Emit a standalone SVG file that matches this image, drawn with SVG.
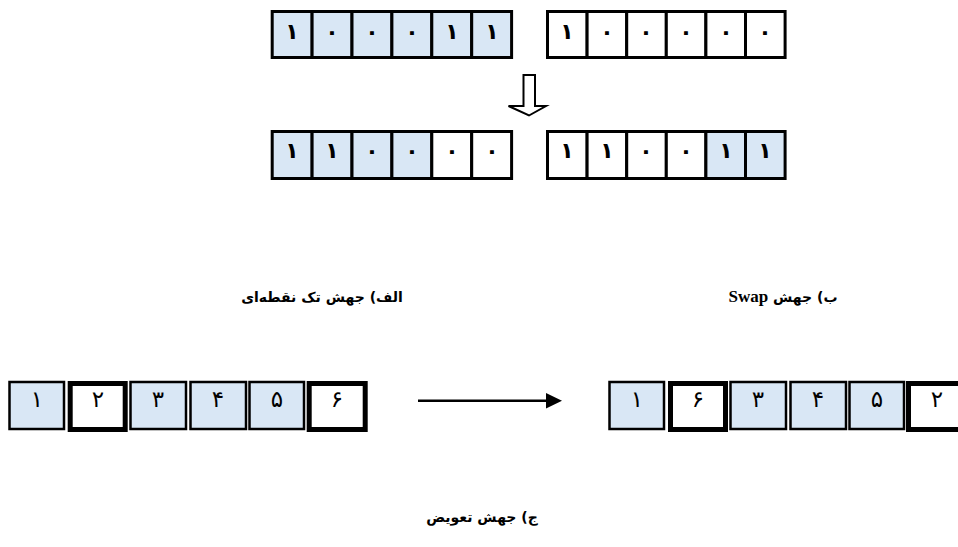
<svg xmlns="http://www.w3.org/2000/svg" width="958" height="547" viewBox="0 0 958 547">
<style>
.b{fill:#d9e7f5;stroke:#000;stroke-width:3}
.w{fill:#fff;stroke:#000;stroke-width:3}
.bb{fill:#d9e7f5;stroke:#000;stroke-width:2.5}
.ww{fill:#fff;stroke:#000;stroke-width:5}
.d{font-family:"DejaVu Sans",sans-serif;font-size:22px;font-weight:bold;fill:#000;text-anchor:middle}
.e{font-family:"DejaVu Sans",sans-serif;font-size:23px;fill:#000;text-anchor:middle}
.lbl{font-family:"DejaVu Sans",sans-serif;font-size:14px;font-weight:bold;fill:#000;text-anchor:middle}
</style>
<rect width="958" height="547" fill="#fff"/>
<g id="row1-left">
<rect class="b" x="272.2" y="11.5" width="39.9" height="46"/>
<rect class="b" x="312.1" y="11.5" width="39.9" height="46"/>
<rect class="b" x="352" y="11.5" width="39.9" height="46"/>
<rect class="b" x="391.9" y="11.5" width="39.9" height="46"/>
<rect class="b" x="431.8" y="11.5" width="39.9" height="46"/>
<rect class="b" x="471.7" y="11.5" width="39.9" height="46"/>
<text class="d" x="292" y="39">۱</text>
<text class="d" x="332" y="39">۰</text>
<text class="d" x="372" y="39">۰</text>
<text class="d" x="412" y="39">۰</text>
<text class="d" x="452" y="39">۱</text>
<text class="d" x="492" y="39">۱</text>
</g>
<g id="row1-right">
<rect class="w" x="547.5" y="11.5" width="39.6" height="46"/>
<rect class="w" x="587.1" y="11.5" width="39.6" height="46"/>
<rect class="w" x="626.7" y="11.5" width="39.6" height="46"/>
<rect class="w" x="666.3" y="11.5" width="39.6" height="46"/>
<rect class="w" x="705.9" y="11.5" width="39.6" height="46"/>
<rect class="w" x="745.5" y="11.5" width="39.6" height="46"/>
<text class="d" x="567" y="39">۱</text>
<text class="d" x="607" y="39">۰</text>
<text class="d" x="646" y="39">۰</text>
<text class="d" x="686" y="39">۰</text>
<text class="d" x="726" y="39">۰</text>
<text class="d" x="765" y="39">۰</text>
</g>
<g id="row2-left">
<rect class="b" x="272.2" y="131.5" width="39.9" height="47"/>
<rect class="b" x="312.1" y="131.5" width="39.9" height="47"/>
<rect class="b" x="352" y="131.5" width="39.9" height="47"/>
<rect class="b" x="391.9" y="131.5" width="39.9" height="47"/>
<rect class="w" x="431.8" y="131.5" width="39.9" height="47"/>
<rect class="w" x="471.7" y="131.5" width="39.9" height="47"/>
<text class="d" x="292" y="158">۱</text>
<text class="d" x="332" y="158">۱</text>
<text class="d" x="372" y="158">۰</text>
<text class="d" x="412" y="158">۰</text>
<text class="d" x="452" y="158">۰</text>
<text class="d" x="492" y="158">۰</text>
</g>
<g id="row2-right">
<rect class="w" x="547.5" y="131.5" width="39.6" height="47"/>
<rect class="w" x="587.1" y="131.5" width="39.6" height="47"/>
<rect class="w" x="626.7" y="131.5" width="39.6" height="47"/>
<rect class="w" x="666.3" y="131.5" width="39.6" height="47"/>
<rect class="b" x="705.9" y="131.5" width="39.6" height="47"/>
<rect class="b" x="745.5" y="131.5" width="39.6" height="47"/>
<text class="d" x="567" y="158">۱</text>
<text class="d" x="607" y="158">۱</text>
<text class="d" x="646" y="158">۰</text>
<text class="d" x="686" y="158">۰</text>
<text class="d" x="726" y="158">۱</text>
<text class="d" x="765" y="158">۱</text>
</g>
<g id="row3-left">
<rect class="bb" x="9.5" y="382" width="54.5" height="47"/>
<rect class="ww" x="70.2" y="383.5" width="55" height="46"/>
<rect class="bb" x="130.5" y="382" width="55.5" height="47"/>
<rect class="bb" x="190.5" y="382" width="55.5" height="47"/>
<rect class="bb" x="249.5" y="382" width="54.5" height="47"/>
<rect class="ww" x="309.2" y="383.5" width="56" height="46"/>
<text class="e" x="37" y="407">۱</text>
<text class="e" x="98" y="407">۲</text>
<text class="e" x="158" y="407">۳</text>
<text class="e" x="218" y="407">۴</text>
<text class="e" x="277" y="407">۵</text>
<text class="e" x="337" y="407">۶</text>
</g>
<g id="row3-right">
<rect class="bb" x="609.5" y="382" width="54.5" height="47"/>
<rect class="ww" x="670.5" y="383.5" width="55" height="46"/>
<rect class="bb" x="730.5" y="382" width="55.5" height="47"/>
<rect class="bb" x="790.5" y="382" width="55.5" height="47"/>
<rect class="bb" x="849.5" y="382" width="54.5" height="47"/>
<rect class="ww" x="908.5" y="383.5" width="56" height="46"/>
<text class="e" x="637" y="407">۱</text>
<text class="e" x="698" y="407">۶</text>
<text class="e" x="758" y="407">۳</text>
<text class="e" x="818" y="407">۴</text>
<text class="e" x="877" y="407">۵</text>
<text class="e" x="937" y="407">۲</text>
</g>
<g id="connectors">
<path d="M523.5 75 H535 V106 H546 L529 115.5 L508.5 106 H523.5 Z" fill="#fff" stroke="#000" stroke-width="2"/>
<line x1="418" y1="400.7" x2="549" y2="400.7" stroke="#000" stroke-width="2.5"/>
<polygon points="546,393 562,400.7 546,408.5" fill="#000"/>
</g>
<g id="labels">
<text class="lbl" x="322" y="302" direction="rtl">الف) جهش تک نقطه‌ای</text>
<text class="lbl" x="783" y="302" direction="rtl">ب) جهش <tspan font-family="'Liberation Serif',serif" font-size="17">Swap</tspan></text>
<text class="lbl" x="482" y="522" direction="rtl">ج) جهش تعویض</text>
</g>
</svg>
